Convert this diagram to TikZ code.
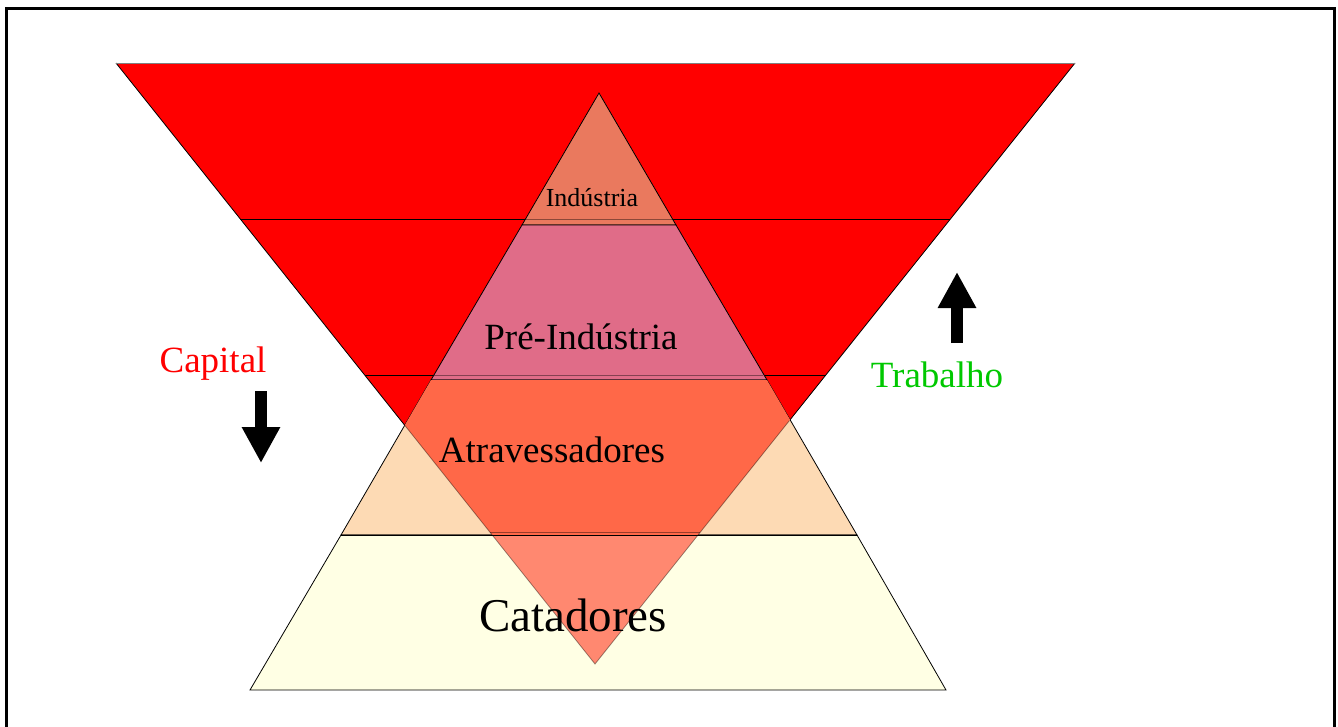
\documentclass[tikz,border=0pt]{standalone}
\usepackage{fontspec}
\setmainfont{Liberation Serif}
\usetikzlibrary{arrows.meta}

\definecolor{capitalRed}{RGB}{255,0,0}
\definecolor{trabalhoGreen}{RGB}{0,200,0}
\definecolor{industriaFill}{RGB}{234,121,94}
\definecolor{preIndustriaFill}{RGB}{224,108,136}
\definecolor{atravFill}{RGB}{253,218,180}
\definecolor{atravInner}{RGB}{255,104,72}
\definecolor{catadoresFill}{RGB}{255,255,228}
\definecolor{catadoresInner}{RGB}{255,136,112}

\begin{document}
\begin{tikzpicture}[x=1pt,y=-1pt,
    band/.style={draw=black, line width=0.8pt},
    faintLine/.style={draw=black, opacity=0.4, line width=0.8pt},
    bigArrow/.style={line width=12pt, -{Triangle[length=36pt,width=36pt]}}]
    \useasboundingbox (0,0) rectangle (1338,726);
    \clip (0,0) rectangle (1338,726);

    % Frame
    \draw[line width=3pt] (6,8) rectangle (1334,760);

    % Define the corners of the inverted triangle
    \coordinate (capLeft) at (116,63);
    \coordinate (capRight) at (1075,63);
    \coordinate (capTip) at (595,664);
    \coordinate (cap1L) at (240,219);
    \coordinate (cap1R) at (950,219);
    \coordinate (cap2L) at (365,375);
    \coordinate (cap2R) at (826,375);
    \coordinate (cap3L) at (490,532);
    \coordinate (cap3R) at (700,532);

    % Define the corners of the pyramid
    \coordinate (apex) at (599,93);
    \coordinate (lev1L) at (522,225);
    \coordinate (lev1R) at (676,225);
    \coordinate (lev2L) at (431,380);
    \coordinate (lev2R) at (767,380);
    \coordinate (lev3L) at (341,535);
    \coordinate (lev3R) at (857,535);
    \coordinate (baseLeft) at (250,690);
    \coordinate (baseRight) at (946,690);

    % Draw the inverted triangle
    \fill[capitalRed] (capLeft) -- (capRight) -- (capTip) -- cycle;
    \draw[band] (capRight) -- (capTip) -- (capLeft);
    \draw[band, black!50] (capLeft) -- (capRight);
    \draw[band] (cap1L) -- (cap1R);
    \draw[band] (cap2L) -- (cap2R);

    % Draw the pyramid levels
    \filldraw[band, fill=industriaFill] (apex) -- (lev1R) -- (lev1L) -- cycle;
    \filldraw[band, fill=preIndustriaFill] (lev1L) -- (lev1R) -- (lev2R) -- (lev2L) -- cycle;
    \filldraw[band, fill=atravFill] (lev2L) -- (lev2R) -- (lev3R) -- (lev3L) -- cycle;
    \filldraw[band, fill=catadoresFill] (lev3L) -- (lev3R) -- (baseRight) -- (baseLeft) -- cycle;

    % Overlap of both triangles
    \begin{scope}
        \clip (capLeft) -- (capRight) -- (capTip) -- cycle;
        \fill[atravInner] (lev2L) -- (lev2R) -- (lev3R) -- (lev3L) -- cycle;
        \fill[catadoresInner] (lev3L) -- (lev3R) -- (baseRight) -- (baseLeft) -- cycle;
    \end{scope}
    \draw[band] (lev3L) -- (lev3R);
    \begin{scope}
        \clip (apex) -- (baseRight) -- (baseLeft) -- cycle;
        \draw[faintLine] (capRight) -- (capTip) -- (capLeft);
        \draw[faintLine] (cap1L) -- (cap1R);
        \draw[faintLine] (cap2L) -- (cap2R);
        \draw[faintLine] (cap3L) -- (cap3R);
    \end{scope}

    % Draw the labels
    \node[anchor=base, inner sep=0pt, font=\fontsize{26}{26}\selectfont] (industria) at (592,206) {Indústria};
    \node[anchor=base, inner sep=0pt, font=\fontsize{37}{37}\selectfont] (preIndustria) at (581,349) {Pré-Indústria};
    \node[anchor=base, inner sep=0pt, font=\fontsize{37}{37}\selectfont] (atravessadores) at (552,462) {Atravessadores};
    \node[anchor=base, inner sep=0pt, font=\fontsize{47}{47}\selectfont] (catadores) at (573,631) {Catadores};
    \node[anchor=base, inner sep=0pt, text=capitalRed, font=\fontsize{37}{37}\selectfont] (capital) at (213,372) {Capital};
    \node[anchor=base, inner sep=0pt, text=trabalhoGreen, font=\fontsize{37}{37}\selectfont] (trabalho) at (937,387) {Trabalho};

    % Draw the arrows
    \coordinate (capitalFrom) at (261,391);
    \coordinate (capitalTo) at (261,463);
    \coordinate (trabalhoFrom) at (957,343);
    \coordinate (trabalhoTo) at (957,272);
    \draw[bigArrow] (capitalFrom) -- (capitalTo);
    \draw[bigArrow] (trabalhoFrom) -- (trabalhoTo);

\end{tikzpicture}
\end{document}
